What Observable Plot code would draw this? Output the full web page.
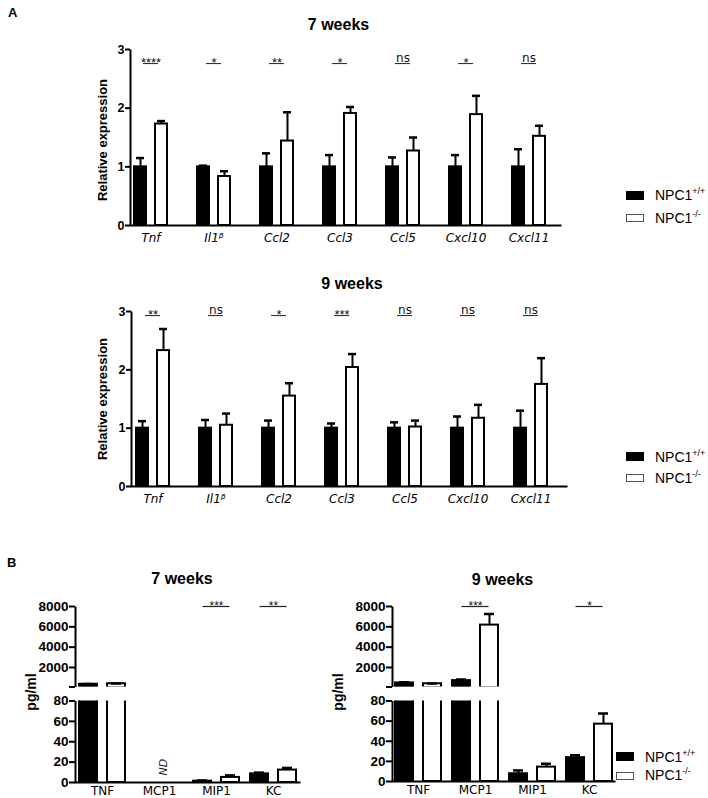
<!DOCTYPE html>
<html><head><meta charset="utf-8">
<script src="https://cdn.jsdelivr.net/npm/d3@7"></script>
<script src="https://cdn.jsdelivr.net/npm/@observablehq/plot@0.6"></script>
<style>
body{margin:0;background:#fff;}
#fig{position:relative;width:708px;height:798px;overflow:hidden;font-family:"Liberation Sans",Arial,Helvetica,sans-serif;color:#000;}
#fig > div{position:absolute;}
.t{white-space:nowrap;line-height:1;}
.sw{box-sizing:border-box;}
.sup{font-size:9px;position:relative;top:-6px;}
</style></head>
<body><div id="fig"></div>
<script>
// ---------- data ----------
const genes = ["Tnf", "Il1β", "Ccl2", "Ccl3", "Ccl5", "Cxcl10", "Cxcl11"];
const geneTicks = ["Tnf", "Il1ᵝ", "Ccl2", "Ccl3", "Ccl5", "Cxcl10", "Cxcl11"];

const wt7 = [1, 1, 1, 1, 1, 1, 1];
const wt7Err = [0.15, 0.02, 0.23, 0.20, 0.16, 0.20, 0.30];
const ko7 = [1.73, 0.835, 1.44, 1.91, 1.27, 1.89, 1.52];
const ko7Err = [0.05, 0.09, 0.49, 0.11, 0.23, 0.32, 0.18];
const sig7 = ["****", "*", "**", "*", "ns", "*", "ns"];

const wt9 = [1, 1, 1, 1, 1, 1, 1];
const wt9Err = [0.12, 0.14, 0.13, 0.08, 0.10, 0.20, 0.30];
const ko9 = [2.33, 1.05, 1.55, 2.04, 1.02, 1.17, 1.75];
const ko9Err = [0.37, 0.20, 0.22, 0.23, 0.11, 0.23, 0.45];
const sig9 = ["**", "ns", "*", "***", "ns", "ns", "ns"];

const cytokines = ["TNF", "MCP1", "MIP1", "KC"];
const wt7B = [350, null, 1.3, 8.5];
const wt7BErr = [30, null, 0.7, 1.2];
const ko7B = [400, null, 5.0, 12.2];
const ko7BErr = [20, null, 2.0, 2.1];
const nd7B = ["", "ND", "", ""];
const sig7B = ["", "", "***", "**"];

const wt9B = [480, 706, 7.7, 23.7];
const wt9BErr = [60, 100, 3.3, 2.3];
const ko9B = [400, 6170, 14.3, 57];
const ko9BErr = [20, 1085, 3.4, 10.7];
const sig9B = ["", "***", "", "*"];

const yTicksA = [0, 1, 2, 3];
const yTicksBUpper = [80, 2000, 4000, 6000, 8000];
const yTicksBLower = [0, 20, 40, 60, 80];
const groups = ["NPC1", "NPC1"];
const groupSup = ["+/+", "-/-"];

// ---------- helpers ----------
const FONT = '"Liberation Sans", Arial, Helvetica, sans-serif';
const VFONT = '"DejaVu Sans", Verdana, sans-serif';
const SFONT = '"Liberation Sans", Arial, sans-serif';
const fig = document.getElementById("fig");
const BREAK = yTicksBLower[yTicksBLower.length - 1];

function rows(cats, vals, errs) {
  return cats.map((cat, i) => ({cat, v: vals[i], e: errs[i]})).filter(d => d.v != null);
}
function labelRows(cats, labels) {
  return cats.map((cat, i) => ({cat, s: labels[i]})).filter(d => d.s);
}
function put(el, left, top) {
  const div = document.createElement("div");
  div.style.left = left + "px";
  div.style.top = top + "px";
  div.appendChild(el);
  fig.appendChild(div);
  return div;
}
function finish(svg) {
  svg.style.maxWidth = "none";
  svg.style.background = "transparent";
  return svg;
}

// ---------- panel A ----------
function panelA({wt, wtE, ko, koE, sig, sigY, W, height, mt, mb, ml, mr, range}) {
  const dW = rows(genes, wt, wtE), dK = rows(genes, ko, koE);
  const sg = labelRows(genes, sig);
  const stars = sg.filter(d => d.s !== "ns"), ns = sg.filter(d => d.s === "ns");
  const fw = W - ml - mr, fh = height - mt - mb;
  return finish(Plot.plot({
    width: W, height, marginTop: mt, marginBottom: mb, marginLeft: ml, marginRight: mr,
    style: {fontFamily: FONT, color: "#000", background: "transparent"},
    x: {domain: genes, range, paddingInner: 0.45, paddingOuter: 0, label: null},
    y: {domain: [0, 3], label: null},
    marks: [
      Plot.barY(dW, {x: "cat", y: "v", fill: "#000", stroke: "#000", strokeWidth: 2, insetLeft: 1, insetRight: 22}),
      Plot.barY(dK, {x: "cat", y: "v", fill: "#fff", stroke: "#000", strokeWidth: 2, insetLeft: 22, insetRight: 1}),
      Plot.ruleX(dW, {x: "cat", y1: "v", y2: d => d.v + d.e, dx: -10.5, strokeWidth: 2}),
      Plot.ruleX(dK, {x: "cat", y1: "v", y2: d => d.v + d.e, dx: 10.5, strokeWidth: 2}),
      Plot.tickY(dW, {x: "cat", y: d => d.v + d.e, insetLeft: 3, insetRight: 24, strokeWidth: 2.5}),
      Plot.tickY(dK, {x: "cat", y: d => d.v + d.e, insetLeft: 24, insetRight: 3, strokeWidth: 2.5}),
      Plot.frame({strokeWidth: 2, strokeDasharray: `0 ${fw + fh} ${fw + fh}`}),
      Plot.axisY({ticks: yTicksA, tickFormat: d => String(d), tickSize: 5, tickPadding: 1, strokeWidth: 2, fontSize: 12.5, fontWeight: "bold", label: null}),
      Plot.axisX({tickSize: 0, tickPadding: 8, fontSize: 12, fontStyle: "italic", fontFamily: VFONT, label: null,
        tickFormat: d => geneTicks[genes.indexOf(d)]}),
      Plot.tickY(sg, {x: "cat", y: sigY, insetLeft: 10, insetRight: 10, strokeWidth: 1, stroke: "#222"}),
      Plot.text(stars, {x: "cat", y: sigY, text: "s", lineAnchor: "bottom", dy: 3, fontSize: 13, fontFamily: SFONT, fill: "#111"}),
      Plot.text(ns, {x: "cat", y: sigY, text: "s", lineAnchor: "bottom", dy: -1.5, fontSize: 12, fontFamily: VFONT, fill: "#111"})
    ]
  }));
}

// ---------- panel B (broken axis: upper + lower) ----------
function panelBUpper({wt, wtE, ko, koE, sig, W, ml, mr, range}) {
  const height = 100, mt = 16, mb = 3.5;
  const big = d => d.v > BREAK;
  const dW = rows(cytokines, wt, wtE).filter(big), dK = rows(cytokines, ko, koE).filter(big);
  const sg = labelRows(cytokines, sig);
  const fw = W - ml - mr, fh = height - mt - mb;
  const top = yTicksBUpper[yTicksBUpper.length - 1];
  return finish(Plot.plot({
    width: W, height, marginTop: mt, marginBottom: mb, marginLeft: ml, marginRight: mr,
    style: {fontFamily: FONT, color: "#000", background: "transparent"},
    x: {domain: cytokines, range, paddingInner: 0.163, paddingOuter: 0, axis: null},
    y: {domain: [yTicksBUpper[0], top], label: null},
    marks: [
      Plot.barY(dW, {x: "cat", y: "v", fill: "#000", stroke: "#000", strokeWidth: 2, insetLeft: 1, insetRight: 29, clip: true}),
      Plot.barY(dK, {x: "cat", y: "v", fill: "#fff", stroke: "#000", strokeWidth: 2, insetLeft: 29, insetRight: 1, clip: true}),
      Plot.ruleX(dW, {x: "cat", y1: "v", y2: d => d.v + d.e, dx: -14, strokeWidth: 2, clip: true}),
      Plot.ruleX(dK, {x: "cat", y1: "v", y2: d => d.v + d.e, dx: 14, strokeWidth: 2, clip: true}),
      Plot.tickY(dW, {x: "cat", y: d => d.v + d.e, insetLeft: 5, insetRight: 33, strokeWidth: 2.5, clip: true}),
      Plot.tickY(dK, {x: "cat", y: d => d.v + d.e, insetLeft: 33, insetRight: 5, strokeWidth: 2.5, clip: true}),
      Plot.frame({strokeWidth: 2, strokeDasharray: `0 ${2 * fw + fh} ${fh}`}),
      Plot.axisY({ticks: yTicksBUpper, tickSize: 6, tickPadding: 1, strokeWidth: 2, fontSize: 13.5, fontWeight: "bold", label: null,
        tickFormat: d => d === yTicksBUpper[0] ? "" : String(d)}),
      Plot.tickY(sg, {x: "cat", y: top, insetLeft: 10.5, insetRight: 10.5, strokeWidth: 1.2, stroke: "#222"}),
      Plot.text(sg, {x: "cat", y: top, text: "s", lineAnchor: "bottom", dy: 3, fontSize: 12, fontFamily: SFONT, fill: "#111"})
    ]
  }));
}
function panelBLower({wt, wtE, ko, koE, nd, W, ml, mr, range, mb}) {
  const height = 108, mt = 10.5;
  const dW = rows(cytokines, wt, wtE), dK = rows(cytokines, ko, koE);
  const ndR = labelRows(cytokines, nd || []);
  const fw = W - ml - mr, fh = height - mt - mb;
  return finish(Plot.plot({
    width: W, height, marginTop: mt, marginBottom: mb, marginLeft: ml, marginRight: mr,
    style: {fontFamily: FONT, color: "#000", background: "transparent"},
    x: {domain: cytokines, range, paddingInner: 0.163, paddingOuter: 0, label: null},
    y: {domain: [0, BREAK], label: null},
    marks: [
      Plot.barY(dW, {x: "cat", y: "v", fill: "#000", stroke: "#000", strokeWidth: 2, insetLeft: 1, insetRight: 29, clip: true}),
      Plot.barY(dK, {x: "cat", y: "v", fill: "#fff", stroke: "#000", strokeWidth: 2, insetLeft: 29, insetRight: 1, clip: true}),
      Plot.ruleX(dW, {x: "cat", y1: "v", y2: d => d.v + d.e, dx: -14, strokeWidth: 2, clip: true}),
      Plot.ruleX(dK, {x: "cat", y1: "v", y2: d => d.v + d.e, dx: 14, strokeWidth: 2, clip: true}),
      Plot.tickY(dW, {x: "cat", y: d => d.v + d.e, insetLeft: 5, insetRight: 33, strokeWidth: 2.5, clip: true}),
      Plot.tickY(dK, {x: "cat", y: d => d.v + d.e, insetLeft: 33, insetRight: 5, strokeWidth: 2.5, clip: true}),
      Plot.frame({strokeWidth: 2, strokeDasharray: `0 ${fw + fh} ${fw + fh}`}),
      Plot.axisY({ticks: yTicksBLower, tickSize: 6, tickPadding: 1, strokeWidth: 2, fontSize: 13.5, fontWeight: "bold", label: null}),
      Plot.axisX({tickSize: 0, tickPadding: 4, fontSize: 12, fontFamily: VFONT, label: null}),
      Plot.text(ndR, {x: "cat", y: 0, text: "s", rotate: -90, textAnchor: "start", dx: 4, dy: -7, fontSize: 11, fontStyle: "italic", fontFamily: VFONT, fill: "#222"})
    ]
  }));
}

// ---------- build ----------
put(panelA({wt: wt7, wtE: wt7Err, ko: ko7, koE: ko7Err, sig: sig7, sigY: 2.76,
  W: 580, height: 220, mt: 9, mb: 35, ml: 130, mr: 19, range: [131, 548.2]}), 0, 40);
put(panelA({wt: wt9, wtE: wt9Err, ko: ko9, koE: ko9Err, sig: sig9, sigY: 2.93,
  W: 580, height: 226, mt: 16, mb: 35, ml: 131, mr: 13, range: [134, 548]}), 0, 295);

put(panelBUpper({wt: wt7B, wtE: wt7BErr, ko: ko7B, koE: ko7BErr, sig: sig7B, W: 330, ml: 75, mr: 30, range: [77.5, 297.5]}), 0, 590);
put(panelBLower({wt: wt7B, wtE: wt7BErr, ko: ko7B, koE: ko7BErr, nd: nd7B, W: 330, ml: 75, mr: 30, range: [77.5, 297.5], mb: 16}), 0, 690);
put(panelBUpper({wt: wt9B, wtE: wt9BErr, ko: ko9B, koE: ko9BErr, sig: sig9B, W: 290, ml: 52, mr: 15, range: [53, 273]}), 340, 590);
put(panelBLower({wt: wt9B, wtE: wt9BErr, ko: ko9B, koE: ko9BErr, W: 290, ml: 52, mr: 15, range: [53, 273], mb: 17}), 340, 690);

// ---------- text ----------
function text(html, left, top, css) {
  const s = document.createElement("span");
  s.className = "t";
  s.innerHTML = html;
  const d = put(s, left, top);
  d.className = "t";
  Object.assign(d.style, css || {});
  return d;
}
const center = {transform: "translateX(-50%)"};
const rot = {transform: "translate(-50%,-50%) rotate(-90deg)"};

text("A", 8, 6, {fontSize: "13px", fontWeight: "bold"});
text("B", 7, 556, {fontSize: "13px", fontWeight: "bold"});
text("7 weeks", 338.5, 16.5, {fontSize: "16px", fontWeight: "bold", ...center});
text("9 weeks", 352, 275.5, {fontSize: "16px", fontWeight: "bold", ...center});
text("7 weeks", 182, 570.5, {fontSize: "16px", fontWeight: "bold", ...center});
text("9 weeks", 502.5, 571.5, {fontSize: "16px", fontWeight: "bold", ...center});
text("Relative expression", 102, 139.5, {fontSize: "13px", fontWeight: "bold", ...rot});
text("Relative expression", 102, 398.5, {fontSize: "13px", fontWeight: "bold", ...rot});
text("pg/ml", 31, 692, {fontSize: "14px", fontWeight: "bold", ...rot});
text("pg/ml", 338, 692, {fontSize: "14px", fontWeight: "bold", ...rot});

function legend(xSw, xTxt, yBlackSw, yWhiteSw, yBlackTxt, yWhiteTxt) {
  const b = document.createElement("div");
  b.className = "sw";
  Object.assign(b.style, {width: "18px", height: "9px", background: "#000"});
  put(b, xSw, yBlackSw);
  const w = document.createElement("div");
  w.className = "sw";
  Object.assign(w.style, {width: "18px", height: "8px", background: "#fff", border: "1px solid #555"});
  put(w, xSw, yWhiteSw);
  text(`${groups[0]}<span class="sup">${groupSup[0]}</span>`, xTxt, yBlackTxt, {fontSize: "14px"});
  text(`${groups[1]}<span class="sup">${groupSup[1]}</span>`, xTxt, yWhiteTxt, {fontSize: "14px"});
}
legend(626, 655, 191, 213.5, 188.2, 210.8);
legend(626, 655, 452, 473.5, 449.8, 470.8);
legend(616, 645, 752, 772, 749.8, 768.2);
</script>
</body></html>
